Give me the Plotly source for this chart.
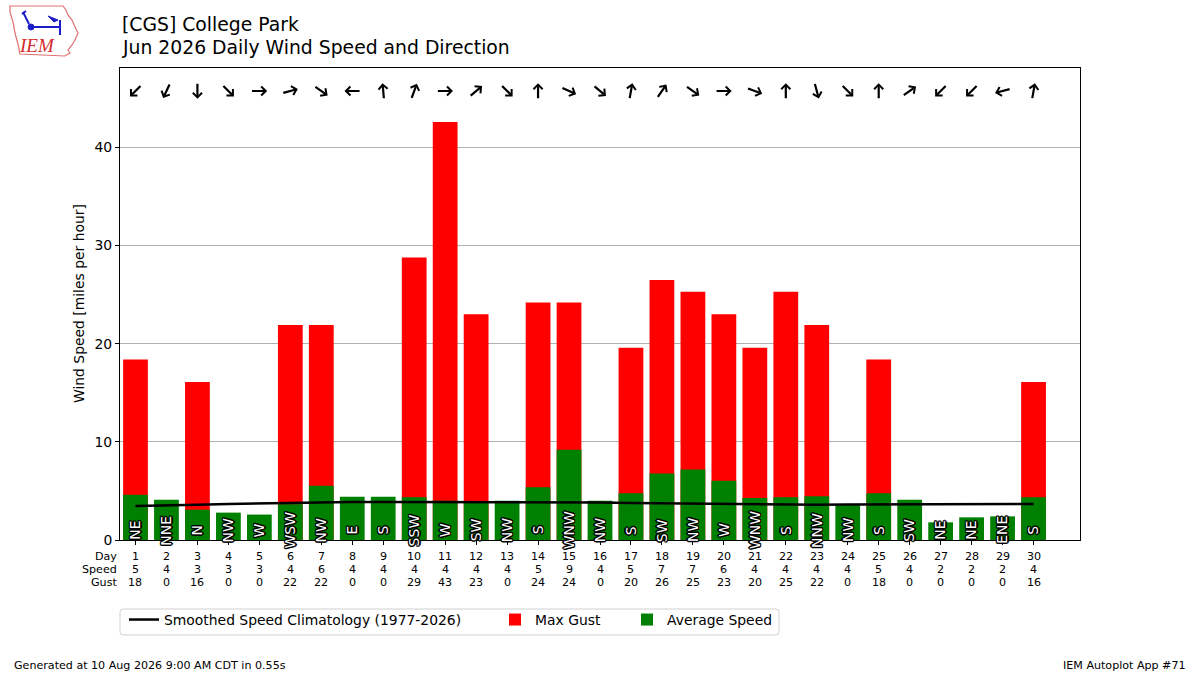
import math
import plotly.graph_objects as go

# ---------------- data ----------------
days = list(range(1, 31))
avg_speed = [4.62, 4.11, 3.09, 2.79, 2.59, 3.65, 5.54, 4.42, 4.42, 4.35,
             4.01, 3.94, 4.01, 5.37, 9.2, 4.01, 4.76, 6.77, 7.18, 6.05,
             4.28, 4.35, 4.45, 3.55, 4.76, 4.11, 1.80, 2.31, 2.41, 4.35]
max_gust = [18.4, 0, 16.1, 0, 0, 21.9, 21.9, 0, 0, 28.8,
            42.6, 23.0, 0, 24.2, 24.2, 0, 19.6, 26.5, 25.3, 23.0,
            19.6, 25.3, 21.9, 0, 18.4, 0, 0, 0, 0, 16.1]
climo = [3.46, 3.5, 3.6, 3.68, 3.74, 3.8, 3.84, 3.86, 3.88, 3.88,
         3.88, 3.87, 3.86, 3.86, 3.85, 3.82, 3.78, 3.74, 3.7, 3.66,
         3.62, 3.6, 3.6, 3.62, 3.63, 3.64, 3.67, 3.68, 3.7, 3.68]
dir_labels = ["NE", "NNE", "N", "NW", "W", "WSW", "NW", "E", "S", "SSW",
              "W", "SW", "NW", "S", "WNW", "NW", "S", "SW", "NW", "W",
              "WNW", "S", "NNW", "NW", "S", "SW", "NE", "NE", "ENE", "S"]
# average vector wind direction (deg, meteorological "from")
dir_deg = [45, 25, 0, 315, 270, 255, 305, 90, 175, 200,
           270, 230, 315, 180, 295, 310, 190, 215, 305, 270,
           290, 180, 345, 315, 180, 235, 45, 45, 75, 190]
speed_txt = [5, 4, 3, 3, 3, 4, 6, 4, 4, 4, 4, 4, 4, 5, 9,
             4, 5, 7, 7, 6, 4, 4, 4, 4, 5, 4, 2, 2, 2, 4]
gust_txt = [18, 0, 16, 0, 0, 22, 22, 0, 0, 29, 43, 23, 0, 24, 24,
            0, 20, 26, 25, 23, 20, 25, 22, 0, 18, 0, 0, 0, 0, 16]

title1 = "[CGS] College Park"
title2 = "Jun 2026 Daily Wind Speed and Direction"
ylabel = "Wind Speed [miles per hour]"
footer_left = "Generated at 10 Aug 2026 9:00 AM CDT in 0.55s"
footer_right = "IEM Autoplot App #71"

FONT = "DejaVu Sans"

# plot area in pixels
L, R, T, B = 120, 1080, 68, 540
W, H = R - L, B - T


def px(xp):
    return (xp - L) / W


def py(yp):
    return (B - yp) / H


fig = go.Figure()
fig.add_trace(go.Scatter(x=days, y=climo, mode="lines",
                         line=dict(color="black", width=2.5),
                         name="Smoothed Speed Climatology (1977-2026)",
                         legend="legend"))
fig.add_trace(go.Bar(x=days, y=max_gust, marker=dict(color="#ff0000", line=dict(width=0)),
                     width=0.8, name="Max Gust", legend="legend2", opacity=1))
fig.add_trace(go.Bar(x=days, y=avg_speed, marker=dict(color="#008000", line=dict(width=0)),
                     width=0.8, name="Average Speed", legend="legend3", opacity=1))

ann = []
shadow = ("1.5px 0 0 #000, -1.5px 0 0 #000, 0 1.5px 0 #000, 0 -1.5px 0 #000, "
          "1px 1px 0 #000, -1px -1px 0 #000, 1px -1px 0 #000, -1px 1px 0 #000")

for d, lab, deg, sp, gu in zip(days, dir_labels, dir_deg, speed_txt, gust_txt):
    # direction label inside bar
    ann.append(dict(x=d, y=1.0, xref="x", yref="y", text=lab, showarrow=False,
                    textangle=-90, xanchor="center", yanchor="middle",
                    font=dict(family=FONT, size=14, color="white", shadow=shadow)))
    # wind arrow (pointing where the wind blows to)
    r = math.radians(deg)
    u, v = -math.sin(r), -math.cos(r)
    half = 7.8
    ann.append(dict(x=d, y=py(91), xref="x", yref="paper", text="", showarrow=True,
                    arrowhead=4, arrowsize=0.8, arrowwidth=2.2, arrowcolor="black",
                    standoff=0, startstandoff=0, borderpad=0,
                    xshift=u * half, yshift=v * half,
                    ax=-u * 2 * half, ay=v * 2 * half))
    # table rows
    for row_y, val in ((556, d), (569, sp), (582, gu)):
        ann.append(dict(x=d, y=py(row_y), xref="x", yref="paper", text=str(val),
                        showarrow=False, xanchor="center", yanchor="middle",
                        font=dict(family=FONT, size=11.1, color="black")))

for row_y, lab in ((556, "Day"), (569, "Speed"), (582, "Gust")):
    ann.append(dict(x=0, y=py(row_y), xref="paper", yref="paper", text=lab,
                    showarrow=False, xanchor="right", yanchor="middle", xshift=-1,
                    font=dict(family=FONT, size=11.1, color="black")))

# titles
ann.append(dict(x=0, y=py(25), xref="paper", yref="paper", text=title1, showarrow=False,
                xanchor="left", yanchor="middle", font=dict(family=FONT, size=18.8, color="black")))
ann.append(dict(x=0, y=py(48), xref="paper", yref="paper", text=title2, showarrow=False,
                xanchor="left", yanchor="middle", font=dict(family=FONT, size=18.8, color="black")))
# y label
ann.append(dict(x=px(79), y=0.5, xref="paper", yref="paper", text=ylabel, showarrow=False,
                textangle=-90, xanchor="center", yanchor="middle",
                font=dict(family=FONT, size=13.9, color="black")))
# footers
ann.append(dict(x=px(12), y=py(665), xref="paper", yref="paper", text=footer_left,
                showarrow=False, xanchor="left", yanchor="middle",
                font=dict(family=FONT, size=11.1, color="black")))
ann.append(dict(x=px(1188), y=py(665), xref="paper", yref="paper", text=footer_right,
                showarrow=False, xanchor="right", yanchor="middle",
                font=dict(family=FONT, size=11.1, color="black")))
# logo text
ann.append(dict(x=px(37), y=py(45), xref="paper", yref="paper", text="<i>IEM</i>",
                showarrow=False, xanchor="center", yanchor="middle",
                font=dict(family="Liberation Serif", size=19, color="#d42a2a")))

# logo outline (Iowa shape) and station glyph
iowa = [(10, 6), (63, 6), (66, 10), (68, 15), (72, 20), (75, 27), (78, 33),
        (75, 40), (72, 45), (68, 50), (70, 53), (65, 56), (20, 54), (18, 44),
        (15, 33), (13, 22), (10, 12)]
path = "M " + " L ".join(f"{px(a):.5f},{py(b):.5f}" for a, b in iowa) + " Z"
shapes = [dict(type="path", path=path, xref="paper", yref="paper",
               line=dict(color="#e07070", width=1.2), fillcolor="rgba(0,0,0,0)", layer="above")]
blue = "#1c1cc8"
for (x0, y0, x1, y1) in [(31, 27, 60, 27), (60, 20, 60, 35), (23, 12, 29, 24), (22, 14, 26, 11)]:
    shapes.append(dict(type="line", x0=px(x0), y0=py(y0), x1=px(x1), y1=py(y1),
                       xref="paper", yref="paper", line=dict(color=blue, width=2)))
shapes.append(dict(type="circle", x0=px(28), y0=py(30), x1=px(34), y1=py(24),
                   xref="paper", yref="paper", fillcolor=blue, line=dict(color=blue, width=1)))
flag = [(48, 16), (58, 20), (54, 22)]
shapes.append(dict(type="path", path="M " + " L ".join(f"{px(a):.5f},{py(b):.5f}" for a, b in flag) + " Z",
                   xref="paper", yref="paper", fillcolor=blue, line=dict(color=blue, width=1)))

# legend frame (rounded rectangle) enclosing the three legend groups
lx0, lx1, ly0, ly1, rr = 120, 779, 609, 635, 3
frame = (f"M {px(lx0 + rr)},{py(ly0)} L {px(lx1 - rr)},{py(ly0)} "
         f"Q {px(lx1)},{py(ly0)} {px(lx1)},{py(ly0 + rr)} L {px(lx1)},{py(ly1 - rr)} "
         f"Q {px(lx1)},{py(ly1)} {px(lx1 - rr)},{py(ly1)} L {px(lx0 + rr)},{py(ly1)} "
         f"Q {px(lx0)},{py(ly1)} {px(lx0)},{py(ly1 - rr)} L {px(lx0)},{py(ly0 + rr)} "
         f"Q {px(lx0)},{py(ly0)} {px(lx0 + rr)},{py(ly0)} Z")
shapes.append(dict(type="path", path=frame, xref="paper", yref="paper",
                   line=dict(color="#d0d0d0", width=1), fillcolor="white", layer="below"))

leg_common = dict(orientation="h", xanchor="left", yanchor="top", y=py(604),
                  bgcolor="rgba(0,0,0,0)", borderwidth=0, itemwidth=30,
                  font=dict(family=FONT, size=13.9, color="black"))

fig.update_layout(
    width=1200, height=675,
    margin=dict(l=L, r=1200 - R, t=T, b=675 - B),
    paper_bgcolor="white", plot_bgcolor="white",
    barmode="overlay", bargap=0.2,
    font=dict(family=FONT, size=13.9, color="black"),
    showlegend=True,
    legend=dict(x=px(124), **leg_common),
    legend2=dict(x=px(495), **leg_common),
    legend3=dict(x=px(627), **leg_common),
    annotations=ann,
    shapes=shapes,
    xaxis=dict(range=[0.5, 31.5], tickmode="array", tickvals=days, showticklabels=False,
               ticks="outside", ticklen=4, tickcolor="black", showgrid=False,
               showline=True, linecolor="black", linewidth=1, mirror=True, zeroline=False),
    yaxis=dict(range=[0, 48.1], tickmode="array", tickvals=[0, 10, 20, 30, 40],
               ticks="outside", ticklen=4, tickcolor="black",
               tickfont=dict(family=FONT, size=13.9, color="black"),
               showgrid=True, gridcolor="#b0b0b0", gridwidth=1,
               showline=True, linecolor="black", linewidth=1, mirror=True, zeroline=False),
)

fig.write_html("out.html", config={"displayModeBar": False},
               post_script="document.body.style.margin='0';document.body.style.overflow='hidden';")
